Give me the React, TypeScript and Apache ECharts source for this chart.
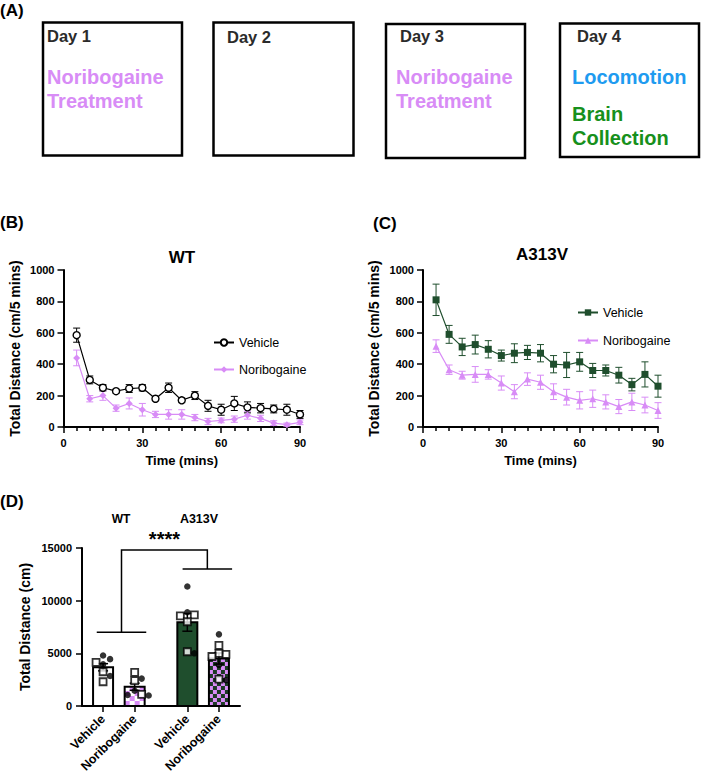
import React, { useEffect, useRef } from 'react';
import * as echarts from 'echarts';

const FONT = "'Liberation Sans', Arial, Helvetica, sans-serif";
const PURPLE = '#d88cf6';
const DARK_GREEN = '#1f4e2d';
const CHECK_DARK = '#1c3a24';

// ---- Time-course data (mean ± SEM, cm per 5-min bin) ----
const minutes = [5, 10, 15, 20, 25, 30, 35, 40, 45, 50, 55, 60, 65, 70, 75, 80, 85, 90];
const wtVehicleMean = [585, 300, 250, 228, 245, 250, 180, 250, 170, 200, 135, 110, 150, 125, 120, 115, 110, 80];
const wtVehicleSem = [45, 25, 20, 12, 25, 20, 12, 30, 15, 25, 35, 35, 45, 35, 30, 25, 35, 25];
const wtNoriMean = [440, 180, 200, 120, 150, 110, 80, 80, 80, 60, 35, 42, 50, 75, 55, 25, 15, 30];
const wtNoriSem = [50, 20, 30, 20, 35, 40, 20, 30, 30, 20, 20, 15, 20, 25, 20, 15, 10, 15];
const a313vVehicleMean = [810, 590, 510, 525, 495, 455, 470, 475, 470, 400, 395, 415, 360, 360, 330, 270, 335, 260];
const a313vVehicleSem = [100, 57, 55, 60, 55, 35, 60, 45, 55, 55, 80, 60, 45, 35, 50, 40, 80, 70];
const a313vNoriMean = [515, 365, 330, 335, 335, 280, 225, 305, 285, 225, 190, 170, 180, 160, 130, 160, 140, 105];
const a313vNoriSem = [40, 30, 25, 50, 30, 45, 45, 40, 45, 50, 50, 55, 55, 45, 45, 55, 50, 50];

// ---- Total distance per animal (cm) ----
const barLabels = ['Vehicle', 'Noribogaine', 'Vehicle', 'Noribogaine'];
const wtVehicleCircles = [4800, 4450, 3950, 2850];
const wtVehicleSquares = [4150, 3250, 2300];
const wtNoriCircles = [2600, 1450, 1050, 1000];
const wtNoriSquares = [3200, 2400, 1100];
const a313vVehicleCircles = [11350, 8900, 5000];
const a313vVehicleSquares = [8550, 8650, 8000, 5150];
const a313vNoriCircles = [6800, 3900, 2450];
const a313vNoriSquares = [5750, 4900, 5000, 4700, 2550];

// ---- Layout of the total-distance panel ----
const SLOTS = [2, 5, 10, 13];
const D_X_MAX = 15;
const D_Y_MAX = 15000;
const D_GRID = { left: 82, top: 548, width: 158, height: 158 };
const BAR_W = 20;
const BAR_STYLES = [
  { base: '#ffffff' },
  { base: '#ffffff', check: PURPLE, cell: 5 },
  { base: DARK_GREEN },
  { base: CHECK_DARK, check: PURPLE, cell: 4 },
];

const groups = [
  { circles: wtVehicleCircles, squares: wtVehicleSquares },
  { circles: wtNoriCircles, squares: wtNoriSquares },
  { circles: a313vVehicleCircles, squares: a313vVehicleSquares },
  { circles: a313vNoriCircles, squares: a313vNoriSquares },
];

const meanOf = (v: number[]) => v.reduce((a, b) => a + b, 0) / v.length;
const semOf = (v: number[]) => {
  const m = meanOf(v);
  const sd = Math.sqrt(v.reduce((a, b) => a + (b - m) * (b - m), 0) / (v.length - 1));
  return sd / Math.sqrt(v.length);
};

// Spread overlapping points sideways (simple beeswarm in pixel space)
function swarm(values: number[], slot: number): number[] {
  const xPx = D_GRID.width / D_X_MAX;
  const yPx = D_GRID.height / D_Y_MAX;
  const step = 7;
  const minDist = 7;
  const placed: { x: number; y: number }[] = [];
  const xs: number[] = new Array(values.length).fill(slot);
  const order = values.map((v, i) => i).sort((a, b) => values[b] - values[a]);
  for (const i of order) {
    const y = values[i] * yPx;
    for (const k of [0, 1, -1, 2, -2, 3, -3]) {
      const x = k * step;
      if (placed.every((p) => Math.hypot(p.x - x, p.y - y) >= minDist)) {
        placed.push({ x, y });
        xs[i] = slot + x / xPx;
        break;
      }
    }
  }
  return xs;
}

const circlePoints: number[][] = [];
const squarePoints: number[][] = [];
groups.forEach((g, gi) => {
  const all = [...g.circles, ...g.squares];
  const xs = swarm(all, SLOTS[gi]);
  all.forEach((v, i) => {
    (i < g.circles.length ? circlePoints : squarePoints).push([xs[i], v]);
  });
});

const barData = groups.map((g, gi) => {
  const all = [...g.circles, ...g.squares];
  return [SLOTS[gi], meanOf(all), semOf(all), gi];
});

// ---- helpers ----
const txt = (text: string, x: number, y: number, size: number, color: string, weight = 'bold', align = 'left') => ({
  type: 'text',
  x,
  y,
  silent: true,
  style: {
    text,
    fill: color,
    font: `${weight} ${size}px ${FONT}`,
    textAlign: align,
    textVerticalAlign: 'middle',
  },
});

const box = (x: number, y: number, w: number, h: number) => ({
  type: 'rect',
  silent: true,
  shape: { x, y, width: w, height: h },
  style: { fill: 'none', stroke: '#000', lineWidth: 2.5 },
});

const axisText = { fontFamily: FONT, fontWeight: 'bold', fontSize: 11, color: '#000' };
const nameText = { fontFamily: FONT, fontWeight: 'bold', fontSize: 14, color: '#000' };
const axisLine = { show: true, onZero: false, lineStyle: { color: '#000', width: 2 } };

const timeXAxis = (gridIndex: number) => ({
  type: 'value',
  gridIndex,
  min: 0,
  max: 90,
  interval: 30,
  name: 'Time (mins)',
  nameLocation: 'middle',
  nameGap: 27,
  nameTextStyle: { ...nameText, fontSize: 13 },
  axisLine,
  axisTick: { show: true, length: 6, lineStyle: { color: '#000', width: 1.5 } },
  minorTick: { show: true, splitNumber: 6, length: 4, lineStyle: { color: '#000', width: 1.5 } },
  axisLabel: { ...axisText, margin: 10 },
  splitLine: { show: false },
  minorSplitLine: { show: false },
});

const distYAxis = (gridIndex: number) => ({
  type: 'value',
  gridIndex,
  min: 0,
  max: 1000,
  interval: 200,
  name: 'Total Distance (cm/5 mins)',
  nameLocation: 'middle',
  nameGap: 42,
  nameTextStyle: nameText,
  axisLine,
  axisTick: { show: true, length: 6, lineStyle: { color: '#000', width: 1.5 } },
  axisLabel: { ...axisText, margin: 9, formatter: (v: number) => String(v) },
  splitLine: { show: false },
});

const errorBars = (axis: number, mean: number[], sem: number[], color: string) => ({
  type: 'custom',
  coordinateSystem: 'cartesian2d',
  xAxisIndex: axis,
  yAxisIndex: axis,
  silent: true,
  clip: false,
  z: 1,
  data: minutes.map((t, i) => [t, mean[i], sem[i]]),
  renderItem: (params: any, api: any) => {
    const x = api.value(0);
    const m = api.value(1);
    const e = api.value(2);
    const hi = api.coord([x, m + e]);
    const lo = api.coord([x, Math.max(0, m - e)]);
    const cap = 3.5;
    const style = { stroke: color, lineWidth: 1 };
    return {
      type: 'group',
      children: [
        { type: 'line', shape: { x1: hi[0], y1: hi[1], x2: lo[0], y2: lo[1] }, style },
        { type: 'line', shape: { x1: hi[0] - cap, y1: hi[1], x2: hi[0] + cap, y2: hi[1] }, style },
        { type: 'line', shape: { x1: lo[0] - cap, y1: lo[1], x2: lo[0] + cap, y2: lo[1] }, style },
      ],
    };
  },
});

const lineSeries = (name: string, axis: number, mean: number[], color: string, symbol: string, size: number, fill: string) => ({
  type: 'line',
  name,
  xAxisIndex: axis,
  yAxisIndex: axis,
  data: minutes.map((t, i) => [t, mean[i]]),
  symbol,
  symbolSize: size,
  showAllSymbol: true,
  lineStyle: { color, width: 1.2 },
  itemStyle: { color: fill, borderColor: color, borderWidth: fill === color ? 0 : 1.4 },
  z: 3,
});

const legendBase = {
  orient: 'vertical',
  itemWidth: 20,
  itemHeight: 8,
  padding: 0,
  selectedMode: false,
  formatter: (n: string) => n.replace(/^\S+\s/, ''),
  textStyle: { fontFamily: FONT, fontSize: 12.5, color: '#000' },
};

const gridBase = { containLabel: false, outerBoundsMode: 'none' };

const option: any = {
  animation: false,
  backgroundColor: '#ffffff',
  grid: [
    { ...gridBase, left: 63.5, top: 270, width: 236.5, height: 157 },
    { ...gridBase, left: 423, top: 270, width: 235, height: 157 },
    { ...gridBase, ...D_GRID },
  ],
  xAxis: [
    timeXAxis(0),
    timeXAxis(1),
    {
      type: 'value',
      gridIndex: 2,
      min: 0,
      max: D_X_MAX,
      axisLine,
      axisTick: { show: true, length: 6, customValues: SLOTS, lineStyle: { color: '#000', width: 1.5 } },
      axisLabel: {
        ...axisText,
        fontSize: 12.5,
        rotate: 45,
        margin: 11,
        customValues: SLOTS,
        formatter: (v: number) => barLabels[SLOTS.indexOf(v)] ?? '',
      },
      splitLine: { show: false },
    },
  ],
  yAxis: [
    distYAxis(0),
    distYAxis(1),
    {
      type: 'value',
      gridIndex: 2,
      min: 0,
      max: D_Y_MAX,
      interval: 5000,
      name: 'Total Distance (cm)',
      nameLocation: 'middle',
      nameGap: 50,
      nameTextStyle: nameText,
      axisLine,
      axisTick: { show: true, length: 6, lineStyle: { color: '#000', width: 1.5 } },
      axisLabel: { ...axisText, margin: 10, formatter: (v: number) => String(v) },
      splitLine: { show: false },
    },
  ],
  legend: [
    { ...legendBase, itemGap: 14, data: ['WT Vehicle', 'WT Noribogaine'], left: 213, top: 336 },
    { ...legendBase, itemGap: 15, data: ['A313V Vehicle', 'A313V Noribogaine'], left: 577, top: 306 },
  ],
  series: [
    errorBars(0, wtVehicleMean, wtVehicleSem, '#000'),
    errorBars(0, wtNoriMean, wtNoriSem, PURPLE),
    lineSeries('WT Vehicle', 0, wtVehicleMean, '#000', 'circle', 7, '#ffffff'),
    lineSeries('WT Noribogaine', 0, wtNoriMean, PURPLE, 'diamond', 7, PURPLE),
    errorBars(1, a313vVehicleMean, a313vVehicleSem, DARK_GREEN),
    errorBars(1, a313vNoriMean, a313vNoriSem, PURPLE),
    lineSeries('A313V Vehicle', 1, a313vVehicleMean, DARK_GREEN, 'rect', 7, DARK_GREEN),
    lineSeries('A313V Noribogaine', 1, a313vNoriMean, PURPLE, 'triangle', 7, PURPLE),
    // bars with fill patterns
    {
      type: 'custom',
      coordinateSystem: 'cartesian2d',
      xAxisIndex: 2,
      yAxisIndex: 2,
      silent: true,
      z: 2,
      data: barData,
      renderItem: (params: any, api: any) => {
        const x = api.value(0);
        const m = api.value(1);
        const gi = api.value(3);
        const top = api.coord([x, m]);
        const base = api.coord([x, 0]);
        const left = top[0] - BAR_W / 2;
        const h = base[1] - top[1];
        const st: any = BAR_STYLES[gi];
        const children: any[] = [
          { type: 'rect', shape: { x: left, y: top[1], width: BAR_W, height: h }, style: { fill: st.base } },
        ];
        if (st.check) {
          const c = st.cell;
          for (let row = 0; row * c < h; row++) {
            for (let col = 0; col * c < BAR_W; col++) {
              if ((row + col) % 2 !== 0) continue;
              const yBottom = base[1] - row * c;
              const yTop = Math.max(base[1] - (row + 1) * c, top[1]);
              children.push({
                type: 'rect',
                shape: { x: left + col * c, y: yTop, width: Math.min(c, BAR_W - col * c), height: yBottom - yTop },
                style: { fill: st.check },
              });
            }
          }
        }
        children.push({
          type: 'rect',
          shape: { x: left, y: top[1], width: BAR_W, height: h },
          style: { fill: 'none', stroke: '#000', lineWidth: 2 },
        });
        return { type: 'group', children };
      },
    },
    // mean ± SEM on the bars
    {
      type: 'custom',
      coordinateSystem: 'cartesian2d',
      xAxisIndex: 2,
      yAxisIndex: 2,
      silent: true,
      z: 3,
      data: barData,
      renderItem: (params: any, api: any) => {
        const x = api.value(0);
        const m = api.value(1);
        const e = api.value(2);
        const hi = api.coord([x, m + e]);
        const lo = api.coord([x, m - e]);
        const cap = 5;
        const style = { stroke: '#000', lineWidth: 1.5 };
        return {
          type: 'group',
          children: [
            { type: 'line', shape: { x1: hi[0], y1: hi[1], x2: lo[0], y2: lo[1] }, style },
            { type: 'line', shape: { x1: hi[0] - cap, y1: hi[1], x2: hi[0] + cap, y2: hi[1] }, style },
            { type: 'line', shape: { x1: lo[0] - cap, y1: lo[1], x2: lo[0] + cap, y2: lo[1] }, style },
          ],
        };
      },
    },
    {
      type: 'scatter',
      xAxisIndex: 2,
      yAxisIndex: 2,
      silent: true,
      z: 4,
      symbol: 'circle',
      symbolSize: 6.5,
      itemStyle: { color: '#000' },
      data: circlePoints,
    },
    {
      type: 'scatter',
      xAxisIndex: 2,
      yAxisIndex: 2,
      silent: true,
      z: 4,
      symbol: 'rect',
      symbolSize: 7,
      itemStyle: { color: '#ffffff', borderColor: '#000', borderWidth: 1.8 },
      data: squarePoints,
    },
    // significance bracket between genotypes
    {
      type: 'custom',
      coordinateSystem: 'cartesian2d',
      xAxisIndex: 2,
      yAxisIndex: 2,
      silent: true,
      clip: false,
      z: 4,
      data: [[0, 0]],
      renderItem: (params: any, api: any) => {
        const wtMid = 3.75;
        const mutMid = 11.9;
        const half = 2.35;
        const style = { stroke: '#000', lineWidth: 1.5, fill: 'none' };
        const p = (x: number, y: number) => api.coord([x, y]);
        const lowL = p(wtMid, 7000);
        const lowR = p(mutMid, 13000);
        const topL = p(wtMid, 14800);
        const topR = p(mutMid, 14800);
        const star = p((wtMid + mutMid) / 2, 15850);
        return {
          type: 'group',
          children: [
            { type: 'line', shape: { x1: p(wtMid - half, 7000)[0], y1: lowL[1], x2: p(wtMid + half, 7000)[0], y2: lowL[1] }, style },
            { type: 'line', shape: { x1: p(mutMid - half, 13000)[0], y1: lowR[1], x2: p(mutMid + half, 13000)[0], y2: lowR[1] }, style },
            { type: 'polyline', shape: { points: [lowL, topL, topR, lowR] }, style },
            {
              type: 'text',
              x: star[0],
              y: star[1],
              style: { text: '****', font: `bold 20px ${FONT}`, fill: '#000', textAlign: 'center', textVerticalAlign: 'middle' },
            },
          ],
        };
      },
    },
  ],
  graphic: [
    // (A) timeline
    txt('(A)', 0, 10, 17, '#000'),
    box(43, 22.5, 139, 133),
    box(213.5, 22.5, 140, 133),
    box(386, 24, 139, 134),
    box(560, 23.5, 139, 133.5),
    txt('Day 1', 47, 36, 16.5, '#2b2b2b'),
    txt('Noribogaine', 47, 76.5, 20, PURPLE),
    txt('Treatment', 47, 100.5, 20, PURPLE),
    txt('Day 2', 227, 37, 16.5, '#2b2b2b'),
    txt('Day 3', 400, 36, 16.5, '#2b2b2b'),
    txt('Noribogaine', 396, 76.5, 20, PURPLE),
    txt('Treatment', 396, 100.5, 20, PURPLE),
    txt('Day 4', 577, 36, 16.5, '#2b2b2b'),
    txt('Locomotion', 572, 76.5, 20, '#1e9bf0'),
    txt('Brain', 572, 114, 20, '#17901c'),
    txt('Collection', 572, 138, 20, '#17901c'),
    // panel letters and titles
    txt('(B)', 0, 222, 17, '#000'),
    txt('(C)', 373, 223, 17, '#000'),
    txt('(D)', 0, 501, 17, '#000'),
    txt('WT', 182, 257, 17, '#000', 'bold', 'center'),
    txt('A313V', 542, 254, 17, '#000', 'bold', 'center'),
    txt('WT', 121, 519, 12, '#000', 'bold', 'center'),
    txt('A313V', 199, 519, 12.5, '#000', 'bold', 'center'),
  ],
};

export default function App() {
  const ref = useRef<HTMLDivElement>(null);
  useEffect(() => {
    if (!ref.current) return;
    const chart = echarts.init(ref.current, null, { renderer: 'svg', width: 701, height: 772 });
    chart.setOption(option);
    return () => chart.dispose();
  }, []);
  return (
    <div
      ref={ref}
      style={{ position: 'absolute', left: 0, top: 0, width: 701, height: 772, background: '#ffffff' }}
    />
  );
}
